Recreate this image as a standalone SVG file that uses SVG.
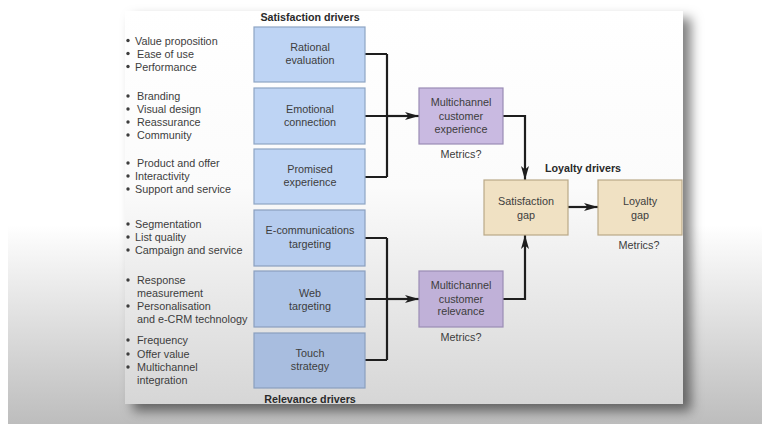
<svg xmlns="http://www.w3.org/2000/svg" width="762" height="424" viewBox="0 0 762 424">
  <defs>
    <linearGradient id="bg" x1="0" y1="0" x2="0" y2="1">
      <stop offset="0" stop-color="#ffffff"/>
      <stop offset="1" stop-color="#bdbdbd"/>
    </linearGradient>
    <linearGradient id="panel" x1="0" y1="0" x2="0" y2="1">
      <stop offset="0" stop-color="#ffffff"/>
      <stop offset="0.45" stop-color="#fbfbfb"/>
      <stop offset="1" stop-color="#d6d6d6"/>
    </linearGradient>
    <filter id="shadow" x="-5%" y="-5%" width="115%" height="120%">
      <feDropShadow dx="8" dy="7" stdDeviation="6" flood-color="#000" flood-opacity="0.5"/>
    </filter>
    <marker id="arr" markerUnits="userSpaceOnUse" markerWidth="15" markerHeight="11" refX="14" refY="5.5" orient="auto">
      <path d="M0,1.5 L14,5.5 L0,9.5 L3.5,5.5 Z" fill="#1e1e1e"/>
    </marker>
    <style>
      .t { font-family: "Liberation Sans", Arial, sans-serif; font-size: 10.8px; fill: #3d3d3d; }
      .c { text-anchor: middle; }
      .h { font-family: "Liberation Sans", Arial, sans-serif; font-size: 10.7px; font-weight: bold; fill: #2a2a2a; text-anchor: middle; }
      .sat { fill: #bed4f4; stroke: #8ea5c4; stroke-width: 1.2; }
      .rel { stroke: #8a9fbf; stroke-width: 1.2; }
      .pur { stroke: #9a8cb5; stroke-width: 1.2; }
      .tan { fill: #f0e1c3; stroke: #baa988; stroke-width: 1.2; }
      .ln { fill: none; stroke: #1e1e1e; stroke-width: 2.2; }
      .dot { fill: #3d3d3d; }
    </style>
  </defs>

  <rect x="0" y="0" width="762" height="424" fill="#ffffff"/>
  <rect x="8" y="225" width="754" height="199" fill="url(#bg)"/>

  <rect x="125" y="11" width="558" height="393" fill="url(#panel)" filter="url(#shadow)"/>

  <text class="h" x="310" y="21">Satisfaction drivers</text>
  <text class="h" x="310" y="403">Relevance drivers</text>
  <text class="h" x="583" y="172">Loyalty drivers</text>

  <g id="bullets">
    <g class="dot">
      <circle cx="128" cy="40.5" r="1.7"/><circle cx="128" cy="53.5" r="1.7"/><circle cx="128" cy="66.5" r="1.7"/>
      <circle cx="128" cy="96" r="1.7"/><circle cx="128" cy="109" r="1.7"/><circle cx="128" cy="122" r="1.7"/><circle cx="128" cy="135" r="1.7"/>
      <circle cx="128" cy="163" r="1.7"/><circle cx="128" cy="176" r="1.7"/><circle cx="128" cy="189" r="1.7"/>
      <circle cx="128" cy="224" r="1.7"/><circle cx="128" cy="237" r="1.7"/><circle cx="128" cy="250" r="1.7"/>
      <circle cx="128" cy="280" r="1.7"/><circle cx="128" cy="306" r="1.7"/>
      <circle cx="128" cy="340" r="1.7"/><circle cx="128" cy="354" r="1.7"/><circle cx="128" cy="367" r="1.7"/>
    </g>
    <text class="t" x="135" y="44.5">Value proposition</text>
    <text class="t" x="137" y="57.5">Ease of use</text>
    <text class="t" x="135" y="70.5">Performance</text>
    <text class="t" x="137" y="100">Branding</text>
    <text class="t" x="137" y="113">Visual design</text>
    <text class="t" x="137" y="126">Reassurance</text>
    <text class="t" x="137" y="139">Community</text>
    <text class="t" x="137" y="167">Product and offer</text>
    <text class="t" x="135" y="180">Interactivity</text>
    <text class="t" x="135" y="193">Support and service</text>
    <text class="t" x="135" y="228">Segmentation</text>
    <text class="t" x="135" y="241">List quality</text>
    <text class="t" x="135" y="254">Campaign and service</text>
    <text class="t" x="137" y="284">Response</text>
    <text class="t" x="137" y="297">measurement</text>
    <text class="t" x="137" y="310">Personalisation</text>
    <text class="t" x="137" y="323">and e-CRM technology</text>
    <text class="t" x="137" y="344">Frequency</text>
    <text class="t" x="137" y="358">Offer value</text>
    <text class="t" x="137" y="371">Multichannel</text>
    <text class="t" x="137" y="384">integration</text>
  </g>

  <g id="connectors">
    <path class="ln" d="M365,54 H387 M365,116 H387 M365,177 H387 M387,54 V177"/>
    <path class="ln" d="M387,116 H419" marker-end="url(#arr)"/>
    <path class="ln" d="M503,116 H525 V180" marker-end="url(#arr)"/>
    <path class="ln" d="M568,207 H598" marker-end="url(#arr)"/>
    <path class="ln" d="M365,238 H387 M365,299 H387 M365,360 H387 M387,238 V360"/>
    <path class="ln" d="M387,299 H419" marker-end="url(#arr)"/>
    <path class="ln" d="M503,299 H525 V235" marker-end="url(#arr)"/>
  </g>

  <g id="rational">
    <rect class="sat" x="254" y="27" width="111" height="55"/>
    <text class="t c" x="310" y="51">Rational</text>
    <text class="t c" x="310" y="64">evaluation</text>
  </g>
  <g id="emotional">
    <rect class="sat" x="254" y="88" width="111" height="56"/>
    <text class="t c" x="310" y="113">Emotional</text>
    <text class="t c" x="310" y="126">connection</text>
  </g>
  <g id="promised">
    <rect class="sat" x="254" y="149" width="111" height="55"/>
    <text class="t c" x="310" y="173">Promised</text>
    <text class="t c" x="310" y="186">experience</text>
  </g>
  <g id="ecomm">
    <rect class="rel" fill="#b6ccee" x="254" y="210" width="111" height="56"/>
    <text class="t c" x="310" y="234">E-communications</text>
    <text class="t c" x="310" y="248">targeting</text>
  </g>
  <g id="web">
    <rect class="rel" fill="#aec4e6" x="254" y="271" width="111" height="56"/>
    <text class="t c" x="310" y="297">Web</text>
    <text class="t c" x="310" y="310">targeting</text>
  </g>
  <g id="touch">
    <rect class="rel" fill="#a8bddf" x="254" y="333" width="111" height="55"/>
    <text class="t c" x="310" y="357">Touch</text>
    <text class="t c" x="310" y="370">strategy</text>
  </g>

  <g id="mc-experience">
    <rect class="pur" fill="#c9bae1" x="419" y="88" width="84" height="56"/>
    <text class="t c" x="461" y="106">Multichannel</text>
    <text class="t c" x="461" y="120">customer</text>
    <text class="t c" x="461" y="133">experience</text>
    <text class="t c" x="461" y="158">Metrics?</text>
  </g>
  <g id="mc-relevance">
    <rect class="pur" fill="#c0b1d8" x="419" y="271" width="84" height="56"/>
    <text class="t c" x="461" y="289">Multichannel</text>
    <text class="t c" x="461" y="303">customer</text>
    <text class="t c" x="461" y="315">relevance</text>
    <text class="t c" x="461" y="341">Metrics?</text>
  </g>
  <g id="satisfaction-gap">
    <rect class="tan" x="484" y="180" width="84" height="55"/>
    <text class="t c" x="526" y="205">Satisfaction</text>
    <text class="t c" x="526" y="219">gap</text>
  </g>
  <g id="loyalty-gap">
    <rect class="tan" x="598" y="180" width="84" height="55"/>
    <text class="t c" x="640" y="205">Loyalty</text>
    <text class="t c" x="640" y="219">gap</text>
    <text class="t c" x="639" y="249">Metrics?</text>
  </g>
</svg>
